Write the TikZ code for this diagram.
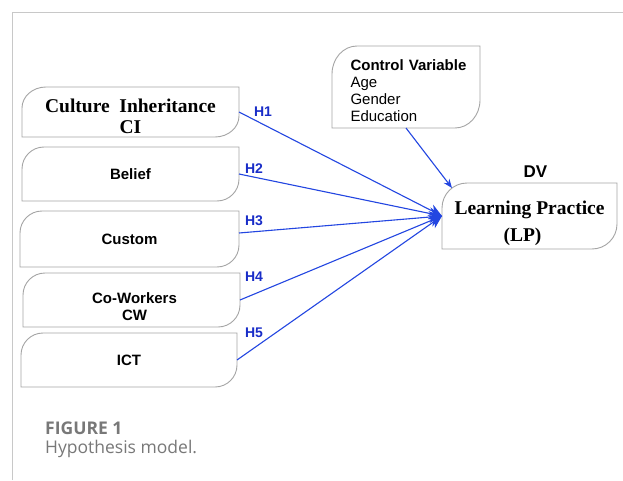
\documentclass[tikz,border=0pt]{standalone}
\usepackage{fontspec}
\setmainfont{Liberation Serif}
\setsansfont{Liberation Sans}
\newfontfamily\capfont{Open Sans}
\usetikzlibrary{arrows.meta}
\definecolor{frameg}{RGB}{200,200,200}
\definecolor{boxg}{RGB}{165,165,165}
\definecolor{lineb}{RGB}{35,70,225}
\definecolor{hblue}{RGB}{25,45,200}
\definecolor{capg}{RGB}{120,120,120}
\newcommand\drawblob[3]{\draw[boxline] (#1.south west) -- ([yshift=-#3]#1.north west)
  arc[start angle=180,end angle=90,x radius=#2,y radius=#3] -- (#1.north east)
  -- ([yshift=#3]#1.south east)
  arc[start angle=0,end angle=-90,x radius=#2,y radius=#3] -- cycle;}
\tikzset{
  boxline/.style={draw=boxg,line width=0.9pt},
  blob/.style={rectangle,draw=none,outer sep=0pt,inner sep=0pt,font=\sffamily\bfseries\fontsize{15}{17}\selectfont},
  serifbox/.style={font=\rmfamily\bfseries\fontsize{19.5}{20.5}\selectfont},
  hyp/.style={text=hblue,font=\sffamily\bfseries\fontsize{14}{14}\selectfont,inner sep=0pt},
  conn/.style={draw=lineb,line width=1.1pt,-{Stealth[length=13pt,width=12pt]}},
}
\begin{document}
\begin{tikzpicture}[x=1pt,y=1pt]
\useasboundingbox (0,0) rectangle (623,480);
\fill[white] (0,0) rectangle (623,480);
% frame
\draw[frameg,line width=1.3pt] (12.5,0) -- (12.5,467.5) -- (623,467.5);
% boxes
\node[blob,serifbox,align=center,minimum width=217pt,minimum height=50pt] (ci) at (130.5,368)
  {\rule{0pt}{22pt}Culture\ \ Inheritance\\CI};
\node[blob,minimum width=217pt,minimum height=54pt] (belief) at (130.5,306) {Belief};
\node[blob,minimum width=219pt,minimum height=56pt] (custom) at (129.5,241) {Custom\hspace{20pt}};
\node[blob,align=center,minimum width=217pt,minimum height=54pt] (cw) at (131.5,180)
  {\rule{0pt}{25pt}\hspace*{6pt}Co-Workers\\\hspace*{6pt}CW};
\node[blob,minimum width=216pt,minimum height=54pt] (ict) at (129,120) {ICT\hspace{40pt}};
\node[blob,align=left,text width=148pt,inner xsep=0pt,minimum height=82pt,
  font=\sffamily\fontsize{15}{17}\selectfont] (ctl) at (406,393)
  {\rule{0pt}{19pt}\hspace*{18.5pt}\textbf{Control Variable}\\\hspace*{18.5pt}Age\\\hspace*{18.5pt}Gender\\\hspace*{18.5pt}Education};
\node[blob,serifbox,align=center,minimum width=175pt,minimum height=66pt,
  font=\rmfamily\bfseries\fontsize{19.5}{26.5}\selectfont] (lp) at (529.5,264)
  {\rule{0pt}{28pt}Learning Practice\\(LP)\hspace*{14pt}};
\node[font=\sffamily\bfseries\fontsize{17}{17}\selectfont,inner sep=0pt] (dv) at (535.5,308) {DV};
\drawblob{ci}{24pt}{21pt}
\drawblob{belief}{22pt}{22pt}
\drawblob{custom}{22pt}{22pt}
\drawblob{cw}{22pt}{22pt}
\drawblob{ict}{22pt}{22pt}
\drawblob{ctl}{25pt}{28pt}
\drawblob{lp}{25pt}{25pt}
% connectors
\draw[conn] (ci.east) -- (lp.west);
\draw[conn] (belief.east) -- (lp.west);
\draw[conn] ([yshift=6pt]custom.east) -- (lp.west);
\draw[conn] (cw.east) -- (lp.west);
\draw[conn] (ict.east) -- (lp.west);
\draw[conn,-{Stealth[length=9pt,width=7pt]}] (ctl.south) -- ([shift={(10pt,-5pt)}]lp.north west);
% hypothesis labels
\node[hyp] (h1) at (263,368) {H1};
\node[hyp] (h2) at (254,311) {H2};
\node[hyp] (h3) at (254,259) {H3};
\node[hyp] (h4) at (254,203) {H4};
\node[hyp] (h5) at (254,147) {H5};
% caption
\node[anchor=base west,inner sep=0pt,text=capg,font=\capfont\bfseries\fontsize{17.5}{17.5}\selectfont] (fig) at (45,46) {FIGURE 1};
\node[anchor=base west,inner sep=0pt,text=capg,font=\capfont\fontsize{17.5}{17.5}\selectfont] (cap) at (45,27) {Hypothesis model.};
\end{tikzpicture}
\end{document}
